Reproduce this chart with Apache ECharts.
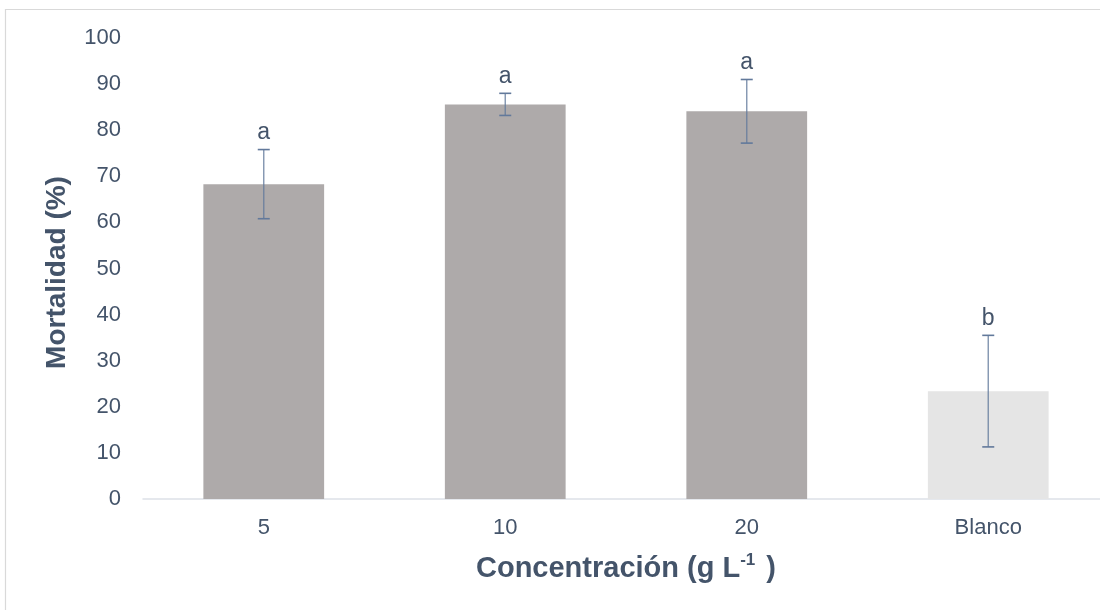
<!DOCTYPE html>
<html>
<head>
<meta charset="utf-8">
<script src="https://cdn.jsdelivr.net/npm/echarts@6/dist/echarts.min.js"></script>
<style>
  html, body { margin: 0; padding: 0; background: #ffffff; overflow: hidden; }
  #chart { width: 1110px; height: 610px; }
</style>
</head>
<body>
<div id="chart"></div>
<script>
// Mortality (%) by concentration, mean ± error, with significance letters
const categories = ['5', '10', '20', 'Blanco'];
const meanValues = [68.3, 85.6, 84.1, 23.4];
const errorValues = [7.5, 2.4, 6.9, 12.1];
const groupLetters = ['a', 'a', 'a', 'b'];
const yTicks = { min: 0, max: 100, interval: 10 };

const barColors = ['#aeaaaa', '#aeaaaa', '#aeaaaa', '#e5e5e5'];
const textColor = '#44546a';
const errColor = '#62799b';

const chart = echarts.init(document.getElementById('chart'), null, { renderer: 'canvas' });

const errorData = categories.map((c, i) => [i, meanValues[i] - errorValues[i], meanValues[i] + errorValues[i], groupLetters[i]]);

const option = {
  animation: false,
  backgroundColor: '#ffffff',
  textStyle: { fontFamily: 'Liberation Sans, Arial, sans-serif' },
  grid: { left: 143, top: 38, right: 1, bottom: 111, containLabel: false },
  graphic: [{
    type: 'rect',
    silent: true,
    z: -10,
    shape: { x: 5.5, y: 9.5, width: 1300, height: 800 },
    style: { fill: 'none', stroke: '#d9d9d9', lineWidth: 1.2 }
  }],
  xAxis: {
    type: 'category',
    data: categories,
    axisTick: { show: false },
    axisLine: { show: true, lineStyle: { color: '#dde1e8', width: 1.5 } },
    axisLabel: { color: textColor, fontSize: 22, margin: 18 },
    name: '{b|Concentración (g L}{s|-1}{b| )}',
    nameLocation: 'middle',
    nameGap: 53,
    nameTextStyle: {
      rich: {
        b: { fontSize: 29, fontWeight: 'bold', color: textColor, lineHeight: 33 },
        s: { fontSize: 17, fontWeight: 'bold', color: textColor, verticalAlign: 'top', lineHeight: 17, padding: [0, 3, 0, 0] }
      }
    }
  },
  yAxis: {
    type: 'value',
    min: yTicks.min,
    max: yTicks.max,
    interval: yTicks.interval,
    splitLine: { show: false },
    axisLine: { show: false },
    axisTick: { show: false },
    axisLabel: { color: textColor, fontSize: 22, margin: 22 },
    name: 'Mortalidad (%)',
    nameLocation: 'middle',
    nameRotate: 90,
    nameGap: 72,
    nameTextStyle: { fontSize: 28, fontWeight: 'bold', color: textColor, padding: [0, 8, 0, 0] }
  },
  series: [
    {
      type: 'bar',
      data: meanValues.map((v, i) => ({ value: v, itemStyle: { color: barColors[i] } })),
      barWidth: '50%',
      z: 1
    },
    {
      type: 'custom',
      z: 5,
      data: errorData,
      renderItem: function (params, api) {
        const x = api.value(0);
        const lo = api.coord([x, api.value(1)]);
        const hi = api.coord([x, api.value(2)]);
        const half = 6;
        const lineStyle = { stroke: errColor, lineWidth: 1.6 };
        return {
          type: 'group',
          children: [
            { type: 'line', shape: { x1: hi[0], y1: hi[1], x2: lo[0], y2: lo[1] }, style: { stroke: errColor, lineWidth: 1.4, opacity: 0.8 } },
            { type: 'line', shape: { x1: hi[0] - half, y1: hi[1], x2: hi[0] + half, y2: hi[1] }, style: lineStyle },
            { type: 'line', shape: { x1: lo[0] - half, y1: lo[1], x2: lo[0] + half, y2: lo[1] }, style: lineStyle },
            {
              type: 'text',
              style: {
                x: hi[0], y: hi[1] - 5,
                text: api.value(3),
                fill: textColor,
                fontSize: 23,
                fontFamily: 'Liberation Sans, Arial, sans-serif',
                align: 'center',
                verticalAlign: 'bottom'
              }
            }
          ]
        };
      }
    }
  ]
};

chart.setOption(option);
</script>
</body>
</html>
